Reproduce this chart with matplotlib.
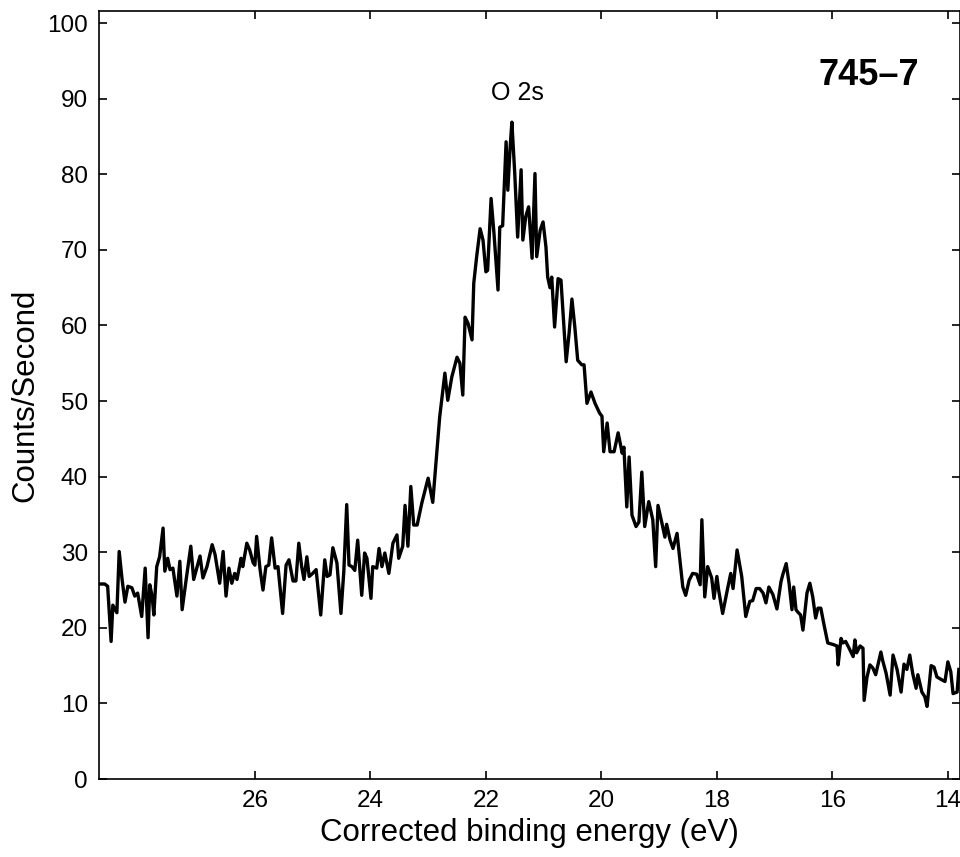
import matplotlib
matplotlib.use("Agg")
import matplotlib.pyplot as plt

plt.rcParams["font.family"] = ["Liberation Sans", "DejaVu Sans"]

# energia de enlace corregida (eV)
energia = [
    28.72, 28.60, 28.55, 28.49, 28.46, 28.39, 28.35, 28.30, 28.25, 28.20,
    28.13, 28.08, 28.03, 27.99, 27.96, 27.90, 27.85, 27.82, 27.78, 27.75,
    27.70, 27.65, 27.59, 27.56, 27.51, 27.47, 27.42, 27.35, 27.30, 27.26,
    27.19, 27.11, 27.06, 26.95, 26.90, 26.83, 26.74, 26.69, 26.61, 26.55,
    26.50, 26.45, 26.40, 26.35, 26.31, 26.24, 26.21, 26.14, 26.09, 26.03,
    26.00, 25.97, 25.91, 25.86, 25.81, 25.76, 25.71, 25.65, 25.60, 25.52,
    25.46, 25.41, 25.34, 25.29, 25.24, 25.19, 25.15, 25.10, 25.06, 25.00,
    24.94, 24.86, 24.79, 24.75, 24.70, 24.65, 24.58, 24.51, 24.46, 24.41,
    24.37, 24.32, 24.27, 24.22, 24.15, 24.10, 24.06, 23.99, 23.96, 23.89,
    23.85, 23.80, 23.75, 23.68, 23.61, 23.54, 23.51, 23.44, 23.40, 23.35,
    23.30, 23.25, 23.19, 23.11, 23.00, 22.92, 22.85, 22.80, 22.71, 22.66,
    22.59, 22.50, 22.45, 22.40, 22.36, 22.31, 22.24, 22.21, 22.16, 22.10,
    22.05, 22.00, 21.97, 21.91, 21.86, 21.79, 21.76, 21.71, 21.65, 21.62,
    21.58, 21.55, 21.50, 21.45, 21.39, 21.36, 21.31, 21.26, 21.20, 21.15,
    21.12, 21.06, 21.01, 20.96, 20.93, 20.89, 20.86, 20.81, 20.75, 20.70,
    20.61, 20.56, 20.51, 20.46, 20.41, 20.34, 20.30, 20.25, 20.18, 20.11,
    20.03, 19.99, 19.96, 19.90, 19.85, 19.78, 19.71, 19.64, 19.61, 19.56,
    19.52, 19.47, 19.40, 19.35, 19.30, 19.25, 19.18, 19.11, 19.06, 19.02,
    18.95, 18.90, 18.87, 18.81, 18.76, 18.69, 18.64, 18.59, 18.54, 18.48,
    18.42, 18.35, 18.29, 18.26, 18.21, 18.16, 18.09, 18.05, 18.00, 17.97,
    17.90, 17.83, 17.76, 17.72, 17.65, 17.57, 17.50, 17.43, 17.38, 17.32,
    17.26, 17.20, 17.15, 17.10, 17.03, 16.96, 16.89, 16.86, 16.80, 16.75,
    16.70, 16.67, 16.63, 16.60, 16.55, 16.51, 16.44, 16.39, 16.34, 16.29,
    16.25, 16.20, 16.15, 16.08, 15.99, 15.92, 15.90, 15.85, 15.82, 15.77,
    15.71, 15.64, 15.61, 15.58, 15.52, 15.47, 15.45, 15.40, 15.35, 15.30,
    15.25, 15.16, 15.13, 15.07, 15.00, 14.95, 14.88, 14.81, 14.76, 14.71,
    14.66, 14.61, 14.55, 14.52, 14.45, 14.40, 14.36, 14.29, 14.24, 14.19,
    14.10, 14.05, 14.00, 13.95, 13.91, 13.84, 13.81,
]

# cuentas por segundo
cuentas = [
    25.8, 25.8, 25.5, 18.2, 23.0, 22.0, 30.1, 26.4, 23.4, 25.5,
    25.3, 24.2, 24.6, 22.8, 21.5, 27.9, 18.7, 25.7, 24.2, 21.7,
    28.1, 29.4, 33.2, 27.5, 29.2, 27.7, 27.9, 24.2, 28.8, 22.4,
    26.4, 30.8, 26.4, 29.5, 26.6, 28.1, 31.0, 29.7, 25.9, 30.1,
    24.2, 27.9, 25.9, 27.2, 26.4, 29.2, 28.1, 31.2, 30.3, 28.6,
    28.3, 32.1, 27.7, 25.0, 28.1, 28.3, 31.9, 27.9, 28.1, 21.9,
    28.3, 29.0, 26.2, 26.2, 31.2, 28.1, 26.4, 29.4, 26.8, 27.2,
    27.7, 21.7, 29.0, 26.8, 27.0, 30.6, 28.6, 21.9, 27.5, 36.3,
    28.3, 28.1, 27.6, 31.6, 24.3, 29.9, 29.2, 23.9, 28.1, 27.9,
    30.5, 28.1, 29.9, 27.2, 31.2, 32.3, 29.2, 30.8, 36.2, 30.8,
    38.7, 33.6, 33.6, 36.5, 39.8, 36.6, 43.1, 47.9, 53.7, 50.1,
    53.2, 55.8, 55.0, 50.8, 61.1, 60.3, 58.1, 65.6, 69.1, 72.8,
    71.3, 67.1, 67.3, 76.8, 72.2, 64.7, 73.0, 73.2, 84.3, 77.9,
    83.6, 86.9, 80.1, 71.7, 80.6, 71.3, 74.4, 75.7, 68.9, 80.1,
    69.1, 72.6, 73.7, 70.4, 66.4, 65.0, 66.4, 59.8, 66.2, 66.0,
    55.2, 58.9, 63.5, 59.8, 55.4, 54.8, 54.8, 49.7, 51.2, 49.7,
    48.4, 48.0, 43.3, 47.1, 43.3, 43.3, 45.8, 43.1, 43.9, 36.0,
    42.6, 34.9, 33.4, 34.0, 40.6, 33.4, 36.7, 34.3, 28.1, 36.2,
    33.8, 32.0, 33.7, 31.6, 30.5, 32.5, 29.0, 25.4, 24.3, 26.3,
    27.2, 27.1, 25.7, 34.3, 24.1, 28.1, 26.6, 23.9, 26.8, 25.0,
    21.9, 24.6, 27.2, 25.2, 30.3, 26.8, 21.5, 23.5, 23.6, 25.2,
    25.2, 24.6, 23.3, 25.4, 24.4, 22.5, 26.1, 27.0, 28.5, 25.9,
    22.4, 25.4, 22.4, 22.1, 21.7, 19.7, 24.6, 25.9, 24.1, 21.3,
    22.6, 22.6, 20.6, 18.0, 17.8, 17.6, 15.1, 18.6, 18.0, 18.2,
    17.3, 16.2, 18.4, 16.7, 17.6, 17.3, 10.4, 13.5, 15.1, 14.7,
    13.8, 16.8, 15.7, 14.0, 11.1, 16.4, 14.5, 11.5, 15.2, 14.5,
    16.4, 14.0, 12.0, 13.8, 11.5, 10.9, 9.6, 15.0, 14.8, 13.5,
    13.1, 12.9, 15.5, 14.2, 11.3, 11.5, 14.5,
]

ticks_x = [26, 24, 22, 20, 18, 16, 14]
ticks_y = [0, 10, 20, 30, 40, 50, 60, 70, 80, 90, 100]

fig = plt.figure(figsize=(9.6, 8.57), dpi=100)
ax = fig.add_axes([0.1031, 0.0910, 0.8969, 0.8961])

ax.plot(energia, cuentas, color="black", linewidth=2.4)

ax.set_xlim(28.70, 13.79)
ax.set_ylim(0, 101.6)
ax.set_xticks(ticks_x)
ax.set_yticks(ticks_y)
ax.tick_params(direction="in", length=6, width=1.2, labelsize=17.5,
               top=True, right=True, pad=8)
for s in ax.spines.values():
    s.set_linewidth(1.2)

ax.set_xlabel("Corrected binding energy (eV)", fontsize=22.5, labelpad=4)
ax.set_ylabel("Counts/Second", fontsize=22.5, labelpad=5)

ax.text(21.46, 89.8, "O 2s", fontsize=18, ha="center", va="baseline")
ax.text(15.37, 91.8, "745\u20137", fontsize=26, fontweight="bold",
        ha="center", va="baseline")

fig.savefig("out.png", dpi=100)
